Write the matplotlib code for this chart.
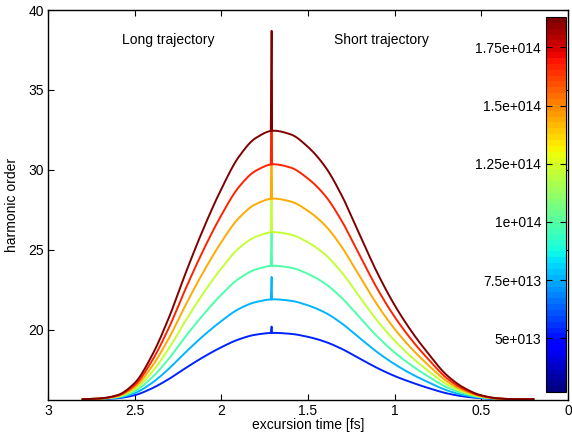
import numpy as np
import matplotlib
matplotlib.use('Agg')
import matplotlib.pyplot as plt
from matplotlib import cm, colors
from matplotlib.ticker import FuncFormatter

plt.rcParams['font.family'] = ['Liberation Sans', 'DejaVu Sans']

# excursion time grid [fs] (axis is reversed: 3 on the left, 0 on the right)
excursion = [2.8, 2.7, 2.6, 2.5, 2.4, 2.3, 2.2, 2.1, 2.0, 1.9, 1.8, 1.7, 1.6, 1.5,
             1.4, 1.3, 1.2, 1.1, 1.0, 0.9, 0.8, 0.7, 0.6, 0.5, 0.4, 0.3, 0.2]

# harmonic order, one list per laser intensity
order_1 = [15.65, 15.66, 15.71, 15.90, 16.33, 16.93, 17.64, 18.31, 18.90, 19.39, 19.69, 19.80, 19.74, 19.55,
           19.24, 18.77, 18.18, 17.60, 17.10, 16.69, 16.33, 16.02, 15.82, 15.71, 15.66, 15.65, 15.65]
order_2 = [15.65, 15.67, 15.74, 16.03, 16.67, 17.58, 18.65, 19.65, 20.54, 21.29, 21.73, 21.90, 21.81, 21.52,
           21.06, 20.35, 19.46, 18.59, 17.84, 17.21, 16.68, 16.21, 15.91, 15.74, 15.67, 15.65, 15.65]
order_3 = [15.65, 15.68, 15.78, 16.15, 17.01, 18.22, 19.66, 20.99, 22.19, 23.18, 23.77, 24.00, 23.88, 23.49,
           22.87, 21.93, 20.74, 19.57, 18.57, 17.74, 17.03, 16.40, 16.00, 15.77, 15.68, 15.65, 15.65]
order_4 = [15.65, 15.68, 15.81, 16.28, 17.35, 18.87, 20.67, 22.34, 23.83, 25.08, 25.82, 26.10, 25.95, 25.46,
           24.69, 23.51, 22.02, 20.56, 19.31, 18.26, 17.37, 16.59, 16.09, 15.80, 15.68, 15.65, 15.65]
order_5 = [15.65, 15.69, 15.84, 16.40, 17.70, 19.52, 21.67, 23.68, 25.48, 26.97, 27.86, 28.20, 28.02, 27.43,
           26.51, 25.09, 23.31, 21.55, 20.04, 18.79, 17.72, 16.78, 16.18, 15.83, 15.69, 15.65, 15.65]
order_6 = [15.65, 15.69, 15.87, 16.53, 18.05, 20.18, 22.71, 25.06, 27.16, 28.91, 29.95, 30.35, 30.14, 29.45,
           28.37, 26.70, 24.62, 22.56, 20.80, 19.33, 18.08, 16.97, 16.27, 15.86, 15.69, 15.65, 15.65]
order_7 = [15.65, 15.70, 15.90, 16.66, 18.39, 20.82, 23.71, 26.40, 28.80, 30.80, 32.00, 32.45, 32.22, 31.43,
           30.18, 28.28, 25.90, 23.55, 21.53, 19.85, 18.42, 17.16, 16.36, 15.89, 15.70, 15.65, 15.65]
orders = [order_1, order_2, order_3, order_4, order_5, order_6, order_7]

# the narrow spike at the cutoff of each curve
spike_time = 1.71
peak_order = [19.8, 21.9, 24.0, 26.1, 28.2, 30.35, 32.45]
spike_top = [20.2, 23.3, 26.35, 29.5, 32.5, 35.6, 38.7]

# laser intensity of each curve [W/cm^2]
intensity = [5.3e13, 7.55e13, 9.8e13, 1.205e14, 1.43e14, 1.655e14, 1.88e14]
cbar_ticks = [5e13, 7.5e13, 1e14, 1.25e14, 1.5e14, 1.75e14]


def smooth_line(x, y, n=400):
    # shape-preserving cubic (pchip) through the read points, only for drawing
    x = np.asarray(x, float)[::-1]
    y = np.asarray(y, float)[::-1]
    h = np.diff(x)
    d = np.diff(y) / h
    m = np.zeros_like(y)
    m[0], m[-1] = d[0], d[-1]
    for k in range(1, len(x) - 1):
        if d[k - 1] * d[k] > 0:
            w1 = 2 * h[k] + h[k - 1]
            w2 = h[k] + 2 * h[k - 1]
            m[k] = (w1 + w2) / (w1 / d[k - 1] + w2 / d[k])
    xn = np.linspace(x[0], x[-1], n)
    i = np.clip(np.searchsorted(x, xn) - 1, 0, len(x) - 2)
    t = (xn - x[i]) / h[i]
    h00 = 2 * t**3 - 3 * t**2 + 1
    h10 = t**3 - 2 * t**2 + t
    h01 = -2 * t**3 + 3 * t**2
    h11 = t**3 - t**2
    yn = h00 * y[i] + h10 * h[i] * m[i] + h01 * y[i + 1] + h11 * h[i] * m[i + 1]
    return xn, yn


def matlab_exp(v, pos):
    s = '%g' % v
    if 'e' in s:
        mant, ex = s.split('e')
        s = mant + 'e' + ex[0] + ex[1:].zfill(3)
    return s


fig = plt.figure(figsize=(5.72, 4.32), dpi=100)
ax = fig.add_axes([48 / 572, 32 / 432, 520 / 572, 390 / 432])

cmap = plt.get_cmap('jet', 64)
norm = colors.Normalize(vmin=2.7e13, vmax=1.88e14)

for y, I, pk, top in zip(orders, intensity, peak_order, spike_top):
    c = cmap(norm(I))
    xs, ys = smooth_line(excursion, y)
    ax.plot(xs, ys, color=c, lw=1.4)
    ax.plot([spike_time + 0.005, spike_time, spike_time - 0.003], [pk, top, pk], color=c, lw=1.3)

ax.set_xlim(3, 0)
ax.set_ylim(15.6, 40)
ax.set_xticks([3, 2.5, 2, 1.5, 1, 0.5, 0])
ax.set_xticklabels(['3', '2.5', '2', '1.5', '1', '0.5', '0'])
ax.set_yticks([20, 25, 30, 35, 40])
ax.tick_params(direction='in', top=True, right=True, length=4, labelsize=10, pad=3)
for s in ax.spines.values():
    s.set_linewidth(1.0)
ax.set_xlabel('excursion time [fs]', fontsize=10)
ax.xaxis.set_label_coords(0.5, -0.046)
ax.set_ylabel('harmonic order', fontsize=10)
ax.yaxis.set_label_coords(-0.056, 0.5)

ax.text(2.306, 38.1, 'Long trajectory', ha='center', va='center', fontsize=10)
ax.text(1.075, 38.1, 'Short trajectory', ha='center', va='center', fontsize=10)

# colorbar drawn inside the plot box, on the right
cax = fig.add_axes([546 / 572, 40 / 432, 20 / 572, 375 / 432])
sm = cm.ScalarMappable(norm=norm, cmap=cmap)
cb = fig.colorbar(sm, cax=cax)
cb.set_ticks(cbar_ticks)
cax.yaxis.set_major_formatter(FuncFormatter(matlab_exp))
cax.tick_params(which='both', direction='in', left=True, right=True,
                labelleft=True, labelright=False, length=4, labelsize=10)
cax.minorticks_off()
cb.outline.set_linewidth(0.8)

fig.savefig('out.png', dpi=100)
